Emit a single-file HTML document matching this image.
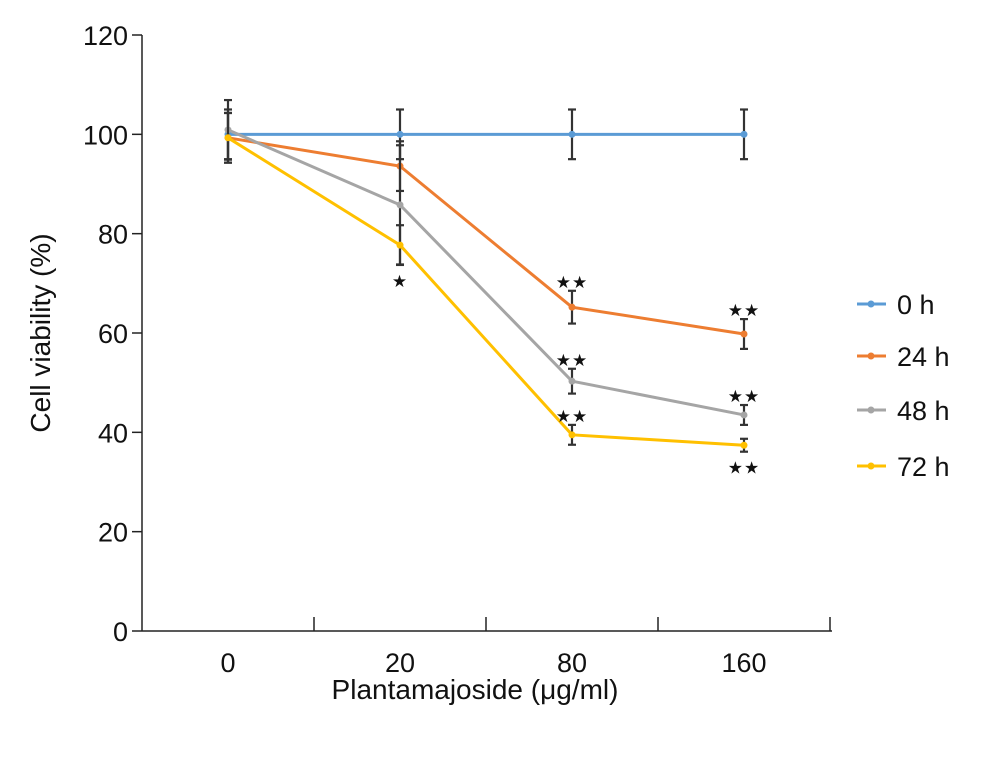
<!DOCTYPE html>
<html><head><meta charset="utf-8"><style>
body{margin:0;background:#fff}
svg text{font-family:"Liberation Sans","DejaVu Sans",sans-serif;fill:#111}
</style></head><body>
<svg width="992" height="758" xmlns="http://www.w3.org/2000/svg">
<g id="axes"></g><g id="plot"></g><g id="legend"></g>
<text x="475" y="699" text-anchor="middle" font-size="28">Plantamajoside (μg/ml)</text>
<text transform="translate(50,333) rotate(-90)" text-anchor="middle" font-size="28">Cell viability (%)</text>
</svg>
<script>
const categories=["0","20","80","160"];
const seriesNames=["0 h","24 h","48 h","72 h"];
const colors=["#5b9bd5","#ed7d31","#a5a5a5","#ffc000"];
const v0=[100,100,100,100];
const v24=[99.3,93.6,65.2,59.8];
const v48=[100.9,85.8,50.3,43.5];
const v72=[99.3,77.7,39.5,37.4];
const e0=[5,5,5,5];
const e24=[5,5,3.3,3];
const e48=[6,12,2.5,2];
const e72=[5,4,2,1.3];
const yTicks=[0,20,40,60,80,100,120];
const stars=[[null,null,"★★","★★"],[null,null,"★★","★★"],[null,"★","★★","★★"]];
const NS="http://www.w3.org/2000/svg";
const x0=142,x1=832,yb=631,yt=35,band=172;
const X=i=>x0+band*(i+0.5);
const Y=v=>yb-(v/120)*(yb-yt);
function mk(p,t,a){const e=document.createElementNS(NS,t);for(const k in a)e.setAttribute(k,a[k]);p.appendChild(e);return e;}
const ax=document.getElementById('axes'),pl=document.getElementById('plot'),lg=document.getElementById('legend');
let l=mk(ax,'line',{x1:x0,y1:yt,x2:x0,y2:yb,stroke:'#222','stroke-width':1.5});

l=mk(ax,'line',{x1:x0,y1:yb,x2:x1,y2:yb,stroke:'#222','stroke-width':1.5});

yTicks.forEach(t=>{mk(ax,'line',{x1:x0-10,y1:Y(t),x2:x0,y2:Y(t),stroke:'#222','stroke-width':1.5});
const tx=mk(ax,'text',{x:x0-14,y:Y(t)+10,'text-anchor':'end','font-size':27});tx.textContent=t;
});
for(let i=1;i<=categories.length;i++)mk(ax,'line',{x1:x0+band*i,y1:yb,x2:x0+band*i,y2:yb-14,stroke:'#222','stroke-width':1.5});
categories.forEach((c,i)=>{const tx=mk(ax,'text',{x:X(i),y:yb+41,'text-anchor':'middle','font-size':27});tx.textContent=c;
});
const vals=[v0,v24,v48,v72],errs=[e0,e24,e48,e72];
vals.forEach((vs,s)=>{
 const pts=vs.map((v,i)=>X(i)+','+Y(v)).join(' ');
 const pln=mk(pl,'polyline',{points:pts,fill:'none',stroke:colors[s],'stroke-width':3});
 
});
vals.forEach((vs,s)=>{vs.forEach((v,i)=>{
 const e=errs[s][i],x=X(i);
 mk(pl,'line',{x1:x,y1:Y(v+e),x2:x,y2:Y(v-e),stroke:'#333','stroke-width':2.2});
 mk(pl,'line',{x1:x-4,y1:Y(v+e),x2:x+4,y2:Y(v+e),stroke:'#333','stroke-width':2.2});
 mk(pl,'line',{x1:x-4,y1:Y(v-e),x2:x+4,y2:Y(v-e),stroke:'#333','stroke-width':2.2});
 const c=mk(pl,'circle',{cx:x,cy:Y(v),r:3.5,fill:colors[s]});
 
});});
stars.forEach((row,k)=>{const s=k+1;row.forEach((st,i)=>{if(!st)return;
 const v=vals[s][i],e=errs[s][i];
 const below=(s===3&&(i===1||i===3));
 const y=below?Y(v-e)+22:Y(v+e)-3;
 const t=mk(pl,'text',{x:X(i),y:y,'text-anchor':'middle','font-size':17,'letter-spacing':'1'});t.textContent=st;
 });});
const ly=[304,356,410,466];
seriesNames.forEach((n,s)=>{
 const g=mk(lg,'g',{});
 mk(g,'line',{x1:857,y1:ly[s],x2:886,y2:ly[s],stroke:colors[s],'stroke-width':3});
 mk(g,'circle',{cx:871,cy:ly[s],r:3.5,fill:colors[s]});
 const t=mk(g,'text',{x:897,y:ly[s]+10,'font-size':27});t.textContent=n;
});
</script>
</body></html>
